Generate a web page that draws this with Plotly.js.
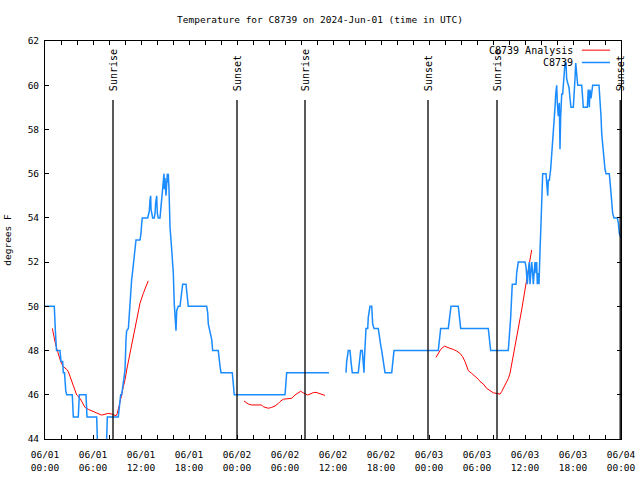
<!DOCTYPE html>
<html>
<head>
<meta charset="utf-8">
<script src="https://cdn.plot.ly/plotly-3.0.1.min.js"></script>
<style>html,body{margin:0;padding:0;background:#fff;}#chart{width:640px;height:480px;}</style>
</head>
<body>
<div id="chart"></div>
<script>
// ---- Data (hours since 2024-06-01 00:00 UTC) ----
const obsTime = [0,1.16,1.31,1.44,1.875,2.0,2.21,2.29,2.44,2.5,2.59,2.71,3.41,3.54,4.16,4.29,5.125,5.25,6.46,6.625,7.625,7.79,9.16,9.31,9.46,9.58,9.71,9.875,10.0,10.125,10.21,10.42,10.54,10.625,10.75,10.83,10.96,11.125,11.25,11.375,11.875,12.0,12.09,12.16,12.83,12.92,13.04,13.125,13.21,13.25,13.33,13.46,13.66,13.75,13.84,13.96,14.04,14.16,14.375,14.46,14.59,14.71,14.875,14.91,15.0,15.125,15.21,15.29,15.34,15.41,15.5,15.625,15.84,16.04,16.16,16.25,16.375,16.46,16.66,16.875,17.09,17.21,17.625,17.79,17.91,20.21,20.34,20.41,20.625,20.84,20.96,21.66,21.875,22.0,23.41,23.54,23.66,30.0,30.125,30.21,35.5,35.75,37.625,37.71,37.91,38.125,38.25,38.41,39.16,39.29,39.46,39.66,39.79,39.875,39.91,40.0,40.125,40.34,40.41,40.625,40.84,40.96,41.125,41.66,41.79,41.96,42.09,42.21,42.375,42.5,43.34,43.46,43.625,49.16,49.29,49.46,50.41,50.625,50.75,51.66,51.875,51.96,55.41,55.54,55.71,57.91,58.04,58.21,58.34,58.41,58.875,58.96,59.16,60.0,60.125,60.21,60.29,60.41,60.54,60.625,60.84,60.96,61.04,61.16,61.25,61.375,61.46,61.54,61.66,61.75,61.79,61.875,62.0,62.09,62.21,62.625,62.71,62.84,62.91,63.04,63.21,63.34,63.46,63.54,63.66,63.75,63.84,63.96,64.04,64.16,64.29,64.375,64.46,64.59,64.71,64.79,64.91,65.0,65.125,65.21,65.34,65.5,65.625,65.75,66.04,66.125,66.25,66.34,66.46,66.59,67.09,67.21,67.29,67.79,67.91,68.04,68.125,68.25,68.34,68.46,69.25,69.375,69.5,69.59,69.71,69.875,70.0,70.125,70.54,70.71,70.84,70.96,71.125,71.54,71.66,71.79,72.0];
const obsTemp = [50,50,48.8,48,48,47.5,47.5,47,47,46.5,46.2,46,46,45,45,46,46,45,45,43,43,45,45,45.5,46,46,46.4,46.7,47.1,48.5,48.9,49,49.7,50.1,50.7,51.2,51.6,52.2,52.7,53,53,53.3,53.75,54,54,54.2,54.3,54.8,55,54.4,54.2,54,54,54.2,54.7,55,54.2,54,54,54.3,54.8,55.4,56,55.3,55.8,55,55.7,56,55.6,56,55.3,53.6,52.55,51.5,50.1,49.7,48.9,49.8,50,50,50.7,51,51,50.5,50,50,49.7,49.2,48.9,48.5,48,48,47.3,47,47,46.5,46,46,46.7,47,47,null,47,47.5,48,48,47.5,47,47,47.5,48,48,47.2,47,47.5,48.5,49,49,49.5,50,50,49.2,49,49,48.55,48.25,48,47.7,47.2,47,47,47.5,48,48,48.5,49,49,49.8,50,50,49.2,49,49,48.6,48,48,48.6,49.5,50.5,51,51,51.5,52,52,51.8,51.5,51,51.6,52,51,52,51.5,51,51.6,52,51.5,52,51,51.5,51,52.5,52.5,53.75,55.3,56,56,55.6,55,55.7,55.7,56.2,56.8,57.3,57.8,58.6,59,59.6,60,59.2,58.6,59.2,57.1,58.6,59.6,59.6,60,60.5,61,61,60.3,60.1,59.9,59.4,59,59,59.9,60.3,61,60.3,60,60,59.5,59,59,59.8,59,59.8,59.4,59.8,60,60,59.4,58.6,57.8,57.3,56.8,56.2,56,56,55.3,54.7,54.2,54,54,53.8,53.3,53.1];

const anaTime = [0.92,1.04,1.25,1.46,1.67,1.96,2.29,2.71,2.92,3.125,3.33,3.54,3.75,3.96,4.375,4.58,4.79,5.0,5.42,5.83,6.25,6.67,7.08,7.5,7.92,8.33,8.625,8.875,9.04,9.21,9.375,9.58,9.79,10.0,10.21,10.42,10.625,10.83,11.04,11.25,11.46,11.67,11.875,12.29,12.7,12.9,
  18.0,
  24.875,25.125,25.42,25.83,27.08,27.29,27.92,28.33,28.75,29.17,29.375,29.79,30.42,30.83,31.25,31.67,31.96,32.21,32.5,32.83,33.125,33.54,33.875,34.17,34.58,35.0,
  42.0,
  48.875,49.17,49.46,49.92,50.21,50.625,51.04,51.46,51.875,52.21,52.5,52.71,52.92,53.33,53.75,54.17,54.375,54.79,55.21,55.625,56.04,56.46,56.875,57.08,57.29,57.5,57.71,57.92,58.125,58.33,58.54,58.75,58.96,59.17,59.375,59.58,59.79,60.0,60.21,60.42,60.625,60.83];
const anaTemp = [49.0,48.7,48.4,48.1,47.8,47.5,47.27,47.15,47.04,46.82,46.6,46.37,46.14,45.99,45.84,45.69,45.54,45.43,45.34,45.27,45.19,45.13,45.08,45.12,45.16,45.13,45.08,45.05,45.16,45.39,45.61,45.99,46.37,46.67,47.12,47.5,47.88,48.25,48.63,49.0,49.38,49.76,50.14,50.59,51.0,51.15,
  null,
  45.72,45.64,45.58,45.54,45.54,45.46,45.39,45.43,45.49,45.61,45.69,45.8,45.84,45.84,45.99,46.1,46.16,46.1,46.03,45.99,46.03,46.1,46.11,46.07,46.02,45.97,
  null,
  47.69,47.9,48.05,48.2,48.15,48.1,48.05,47.98,47.87,47.72,47.5,47.24,47.09,46.97,46.85,46.7,46.6,46.49,46.29,46.18,46.09,46.06,46.03,46.14,46.29,46.4,46.55,46.74,46.97,47.35,47.8,48.17,48.63,49.0,49.38,49.83,50.29,50.74,51.19,51.72,52.09,52.55];

const sunTimes = [8.5, 24.0, 32.5, 47.875, 56.5, 71.9];
const sunLabels = ['Sunrise','Sunset','Sunrise','Sunset','Sunrise','Sunset'];

const xTickVals = [0,6,12,18,24,30,36,42,48,54,60,66,72];
const xTickLabels = ['06/01<br>00:00','06/01<br>06:00','06/01<br>12:00','06/01<br>18:00',
  '06/02<br>00:00','06/02<br>06:00','06/02<br>12:00','06/02<br>18:00',
  '06/03<br>00:00','06/03<br>06:00','06/03<br>12:00','06/03<br>18:00','06/04<br>00:00'];

const seriesNames = ['C8739 Analysis','C8739'];
const seriesColors = ['#ff0000','#1a8cff'];

// ---- Chart ----
const FONT = 'DejaVu Sans Mono, Liberation Mono, monospace';

const traces = [
  {x: anaTime, y: anaTemp, type: 'scatter', mode: 'lines', name: seriesNames[0],
   line: {color: seriesColors[0], width: 1}, connectgaps: false, showlegend: false},
  {x: obsTime, y: obsTemp, type: 'scatter', mode: 'lines', name: seriesNames[1],
   line: {color: seriesColors[1], width: 1.5}, connectgaps: false, showlegend: false}
];

const shapes = sunTimes.map(t => ({
  type: 'line', xref: 'x', yref: 'paper', x0: t, x1: t, y0: 0, y1: 0.852,
  line: {color: '#000', width: 1.3}, layer: 'above'
}));
const annotations = sunTimes.map((t, i) => ({
  x: t, y: 0.869, xref: 'x', yref: 'paper', text: sunLabels[i], textangle: -90,
  showarrow: false, xanchor: 'center', yanchor: 'bottom',
  font: {family: FONT, size: 10, color: '#000'}
}));

// legend in gnuplot style (text left, sample right)
const legY = [0.977, 0.946];
seriesNames.forEach((n, i) => {
  annotations.push({x: 0.920, y: legY[i], xref: 'paper', yref: 'paper', text: n,
    showarrow: false, xanchor: 'right', yanchor: 'middle',
    font: {family: FONT, size: 10, color: '#000'}});
  shapes.push({type: 'line', xref: 'paper', yref: 'paper', x0: 0.932, x1: 0.981,
    y0: legY[i], y1: legY[i], line: {color: seriesColors[i], width: i ? 1.5 : 1}});
});

const layout = {
  width: 640, height: 480,
  margin: {l: 45, r: 19, t: 41, b: 41, pad: 0},
  paper_bgcolor: '#fff', plot_bgcolor: '#fff',
  showlegend: false,
  title: {text: 'Temperature for C8739 on 2024-Jun-01 (time in UTC)',
    font: {family: FONT, size: 9.5, color: '#000'},
    x: 0.5, xanchor: 'center', y: 0.96, yanchor: 'middle', xref: 'container', yref: 'container'},
  xaxis: {
    range: [0, 72], tickmode: 'array', tickvals: xTickVals, ticktext: xTickLabels,
    ticks: 'inside', ticklen: 4, tickcolor: '#000', mirror: 'allticks',
    showline: true, linecolor: '#000', linewidth: 1, showgrid: false, zeroline: false,
    ticklabelstandoff: 7,
    tickfont: {family: FONT, size: 9.5, color: '#000'},
    minor: {tickmode: 'linear', tick0: 0, dtick: 2, ticks: 'inside', ticklen: 4, tickcolor: '#000', showgrid: false}
  },
  yaxis: {
    range: [44, 62], tickmode: 'linear', tick0: 44, dtick: 2,
    ticks: 'inside', ticklen: 4, tickcolor: '#000', mirror: 'allticks',
    showline: true, linecolor: '#000', linewidth: 1, showgrid: false, zeroline: false,
    ticklabelstandoff: 3,
    tickfont: {family: FONT, size: 9.5, color: '#000'},
    title: {text: 'degrees F', font: {family: FONT, size: 9.5, color: '#000'}, standoff: 14}
  },
  shapes: shapes,
  annotations: annotations
};

Plotly.newPlot('chart', traces, layout, {displayModeBar: false, staticPlot: true});
</script>
</body>
</html>
